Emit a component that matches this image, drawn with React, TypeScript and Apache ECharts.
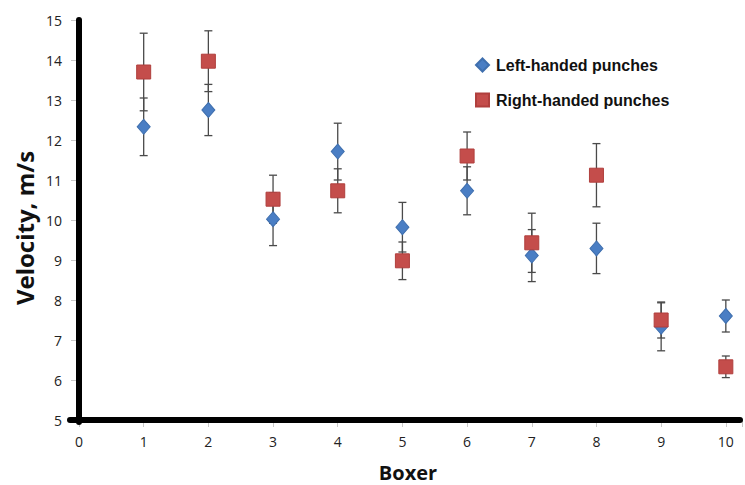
import React, { useEffect, useRef } from "react";
import * as echarts from "echarts";

const boxers = [1, 2, 3, 4, 5, 6, 7, 8, 9, 10];
const leftValues = [12.33, 12.75, 10.02, 11.71, 9.82, 10.73, 9.11, 9.29, 7.33, 7.6];
const leftErr = [0.72, 0.64, 0.66, 0.71, 0.62, 0.6, 0.65, 0.63, 0.6, 0.4];
const rightValues = [13.7, 13.97, 10.52, 10.73, 8.98, 11.6, 9.43, 11.12, 7.5, 6.33];
const rightErr = [0.97, 0.76, 0.6, 0.55, 0.47, 0.6, 0.74, 0.79, 0.45, 0.27];
const xTicks = [0, 1, 2, 3, 4, 5, 6, 7, 8, 9, 10];
const yTicks = [5, 6, 7, 8, 9, 10, 11, 12, 13, 14, 15];
const X_MIN = 0;
const X_MAX = 10.25;
const Y_MIN = 5;
const Y_MAX = 15;

export default function App() {
  const ref = useRef<HTMLDivElement>(null);
  useEffect(() => {
    if (!ref.current) return;
    const chart = echarts.init(ref.current, null, { renderer: "svg" });
    const errData = (vals: number[], errs: number[]) =>
      boxers.map((b, i) => [b, vals[i] - errs[i], vals[i] + errs[i]]);
    const errSeries = (name: string, vals: number[], errs: number[]) => ({
      type: "custom",
      name: name + "-err",
      z: 1,
      silent: true,
      data: errData(vals, errs),
      renderItem: (params: any, api: any) => {
        const x = api.value(0);
        const lo = api.coord([x, api.value(1)]);
        const hi = api.coord([x, api.value(2)]);
        const w = 4;
        const style = { stroke: "#4a4a4a", lineWidth: 1.3 };
        return {
          type: "group",
          children: [
            { type: "line", shape: { x1: lo[0], y1: lo[1], x2: hi[0], y2: hi[1] }, style },
            { type: "line", shape: { x1: lo[0] - w, y1: lo[1], x2: lo[0] + w, y2: lo[1] }, style },
            { type: "line", shape: { x1: hi[0] - w, y1: hi[1], x2: hi[0] + w, y2: hi[1] }, style },
          ],
        };
      },
    });
    chart.setOption({
      animation: false,
      grid: { left: 79, right: 2, top: 20, bottom: 65 },
      legend: {
        orient: "vertical",
        left: 470,
        top: 52,
        itemGap: 19,
        itemWidth: 13,
        itemHeight: 13,
        data: ["Left-handed punches", "Right-handed punches"],
        textStyle: {
          fontFamily: "Liberation Sans",
          fontWeight: "bold",
          fontSize: 16,
          color: "#111",
          padding: [0, 0, 0, 2],
        },
      },
      xAxis: {
        type: "value",
        min: X_MIN,
        max: X_MAX,
        interval: 1,
        splitLine: { show: false },
        axisLine: { show: false },
        axisTick: { show: true, length: 7, lineStyle: { color: "#c8c8c8" } },
        axisLabel: {
          margin: 14,
          fontFamily: "Open Sans",
          fontSize: 14,
          color: "#222",
          formatter: (v: number) => (xTicks.includes(v) ? String(v) : ""),
        },
      },
      yAxis: {
        type: "value",
        min: Y_MIN,
        max: Y_MAX,
        interval: 1,
        splitLine: { show: false },
        axisLine: { show: false },
        axisTick: { show: true, length: 8, lineStyle: { color: "#c8c8c8" } },
        axisLabel: {
          margin: 17,
          fontFamily: "Open Sans",
          fontSize: 14,
          color: "#222",
          formatter: (v: number) => (yTicks.includes(v) ? String(v) : ""),
        },
      },
      series: [
        errSeries("left", leftValues, leftErr),
        errSeries("right", rightValues, rightErr),
        {
          type: "scatter",
          name: "Left-handed punches",
          z: 3,
          symbol: "diamond",
          symbolSize: [13, 15],
          itemStyle: { color: "#4a7ec4", borderColor: "#3f6fae", borderWidth: 1, opacity: 1 },
          data: boxers.map((b, i) => [b, leftValues[i]]),
        },
        {
          type: "scatter",
          name: "Right-handed punches",
          z: 4,
          symbol: "rect",
          symbolSize: 14,
          itemStyle: { color: "#c44d4b", borderColor: "#b03f3d", borderWidth: 1, opacity: 1 },
          data: boxers.map((b, i) => [b, rightValues[i]]),
        },
      ],
    });
    const origin = chart.convertToPixel({ gridIndex: 0 }, [X_MIN, Y_MIN]) as number[];
    const top = chart.convertToPixel({ gridIndex: 0 }, [X_MIN, Y_MAX]) as number[];
    const right = chart.convertToPixel({ gridIndex: 0 }, [X_MAX, Y_MIN]) as number[];
    const axisStyle = { stroke: "#000", lineWidth: 6, lineCap: "round" };
    chart.setOption({
      graphic: [
        {
          type: "line",
          z: 10,
          shape: { x1: origin[0], y1: top[1], x2: origin[0], y2: origin[1] + 2 },
          style: axisStyle,
        },
        {
          type: "line",
          z: 10,
          shape: { x1: origin[0] - 9, y1: origin[1], x2: right[0] - 2, y2: origin[1] },
          style: axisStyle,
        },
        {
          type: "text",
          x: 24,
          y: 228,
          rotation: Math.PI / 2,
          style: {
            text: "Velocity, m/s",
            fontFamily: "Open Sans",
            fontWeight: "bold",
            fontSize: 24,
            fill: "#111",
            align: "center",
            verticalAlign: "middle",
          },
        },
        {
          type: "text",
          x: 408,
          y: 472,
          style: {
            text: "Boxer",
            fontFamily: "Open Sans",
            fontWeight: "bold",
            fontSize: 20,
            fill: "#111",
            align: "center",
            verticalAlign: "middle",
          },
        },
      ],
    });
    return () => chart.dispose();
  }, []);
  return (
    <div
      ref={ref}
      style={{ position: "fixed", left: 0, top: 0, width: 745, height: 485, background: "#fff" }}
    />
  );
}
